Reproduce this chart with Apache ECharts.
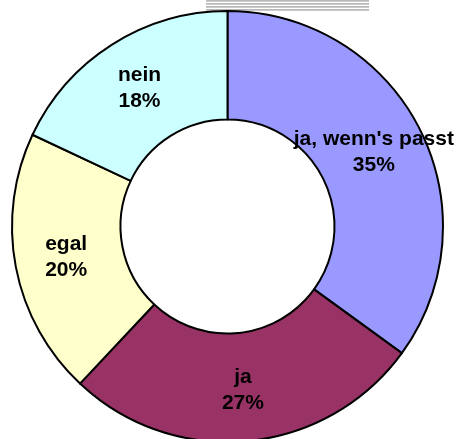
<!DOCTYPE html>
<html>
<head>
<meta charset="utf-8">
<script src="https://cdn.jsdelivr.net/npm/echarts@6/dist/echarts.min.js"></script>
<style>
html,body{margin:0;padding:0;background:#fff;}
#chart{width:456px;height:439px;}
</style>
</head>
<body>
<div id="chart"></div>
<script>
var categories = ["ja, wenn's passt", "ja", "egal", "nein"];
var values = [35, 27, 20, 18];
var colors = ['#9999FF', '#993366', '#FFFFCC', '#CCFFFF'];

var chart = echarts.init(document.getElementById('chart'), null, {renderer: 'canvas'});
var stripes = [];
[0, 3, 6, 9].forEach(function (y) {
  stripes.push({
    type: 'rect',
    left: 206, top: y,
    shape: {width: 163, height: 1.8},
    style: {fill: '#b8b8b8'},
    silent: true
  });
});
chart.setOption({
  animation: false,
  backgroundColor: '#ffffff',
  graphic: stripes,
  series: [{
    type: 'pie',
    center: [227.5, 226.5],
    radius: [107, 215.5],
    startAngle: 90,
    clockwise: true,
    avoidLabelOverlap: false,
    data: categories.map(function (c, i) {
      return {name: c, value: values[i], itemStyle: {color: colors[i]}};
    }),
    itemStyle: {borderColor: '#000000', borderWidth: 2},
    label: {
      show: true,
      position: 'inside',
      formatter: '{b}\n{d}%',
      fontFamily: 'Liberation Sans, Arial, sans-serif',
      fontWeight: 'bold',
      fontSize: 21,
      lineHeight: 26,
      color: '#000000',
      align: 'center'
    },
    labelLine: {show: false},
    emphasis: {disabled: true}
  }]
});
</script>
</body>
</html>
